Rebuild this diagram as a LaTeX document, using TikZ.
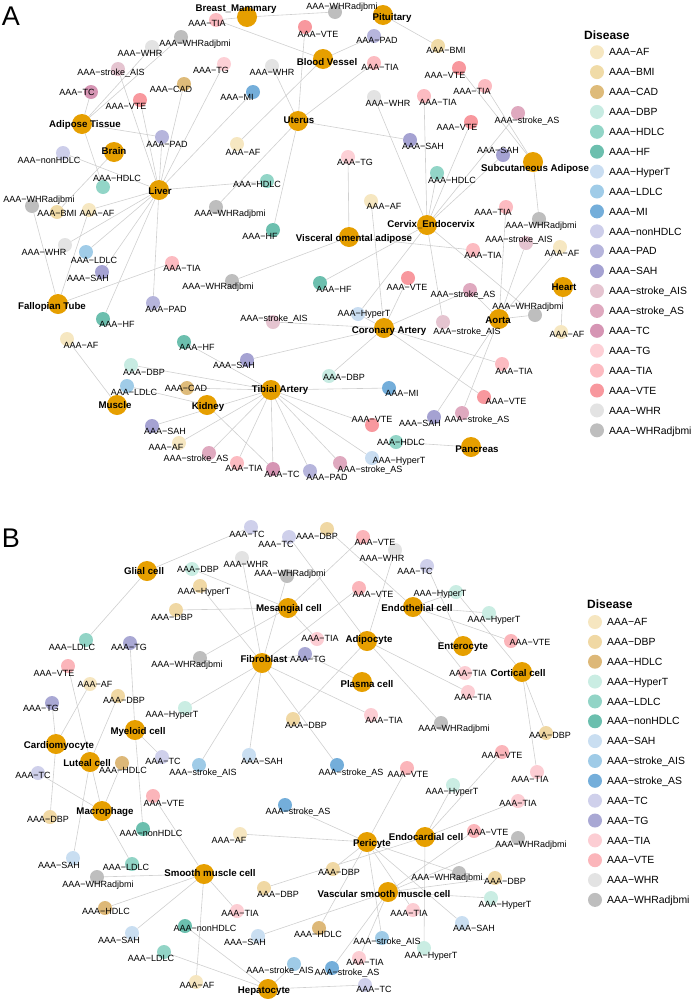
\documentclass[tikz,border=0pt]{standalone}
\usepackage{fontspec}
\setmainfont{Liberation Sans}
\usepackage{tikz}
\usetikzlibrary{positioning, backgrounds}
% colours, panel A
\definecolor{tisorange}{HTML}{E69F00}
\definecolor{linegray}{HTML}{CFCFCF}
\definecolor{aAF}{HTML}{F6E7C1}
\definecolor{aBMI}{HTML}{F0DBA7}
\definecolor{aCAD}{HTML}{DEBB7A}
\definecolor{aDBP}{HTML}{C7EBE2}
\definecolor{aHDLC}{HTML}{92D5C7}
\definecolor{aHF}{HTML}{6CBFAE}
\definecolor{aHyperT}{HTML}{C9DDF1}
\definecolor{aLDLC}{HTML}{A0CCE8}
\definecolor{aMI}{HTML}{74AEDA}
\definecolor{anonHDLC}{HTML}{CDCEEA}
\definecolor{aPAD}{HTML}{B6B5DC}
\definecolor{aSAH}{HTML}{A5A2D2}
\definecolor{aAIS}{HTML}{E5C4D0}
\definecolor{aAS}{HTML}{DFA9BF}
\definecolor{aTC}{HTML}{D695B4}
\definecolor{aTG}{HTML}{FDD0D6}
\definecolor{aTIA}{HTML}{FCBBC1}
\definecolor{aVTE}{HTML}{F8989E}
\definecolor{aWHR}{HTML}{E3E3E3}
\definecolor{aWHRadj}{HTML}{BEBEBE}
% colours, panel B
\definecolor{bAF}{HTML}{F6E6C0}
\definecolor{bDBP}{HTML}{F0D8A4}
\definecolor{bHDLC}{HTML}{DDB878}
\definecolor{bHyperT}{HTML}{CAEDE3}
\definecolor{bLDLC}{HTML}{92D4C6}
\definecolor{bnonHDLC}{HTML}{6BBFAE}
\definecolor{bSAH}{HTML}{C9DEF1}
\definecolor{bAIS}{HTML}{9FCBE7}
\definecolor{bAS}{HTML}{74AEDA}
\definecolor{bTC}{HTML}{CFD0EB}
\definecolor{bTG}{HTML}{A9A8D4}
\definecolor{bTIA}{HTML}{FCCDD3}
\definecolor{bVTE}{HTML}{FBB5BA}
\definecolor{bWHR}{HTML}{E3E3E3}
\definecolor{bWHRadj}{HTML}{BEBEBE}
\tikzset{dis/.style={circle, fill=#1, minimum size=14pt, inner sep=0pt},
         tis/.style={circle, fill=tisorange, minimum size=20pt, inner sep=0pt},
         lab/.style={font=\fontsize{9}{10}\selectfont, inner sep=0pt, text height=6.4pt, text depth=0pt},
         tlab/.style={font=\fontsize{9.7}{11}\selectfont\bfseries, inner sep=0pt, text height=7pt, text depth=0pt},
         legtxt/.style={font=\fontsize{10.4}{12}\selectfont, anchor=west, inner sep=0pt, text height=7.4pt, text depth=0pt},
         legtitle/.style={font=\fontsize{12}{14}\selectfont\bfseries, anchor=west, inner sep=0pt},
         edgeline/.style={draw=linegray, line width=0.6pt}}

\begin{document}
\begin{tikzpicture}[x=1pt, y=-1pt]
    \useasboundingbox (0,0) rectangle (692,999);
    \node[font=\fontsize{27}{30}\selectfont] (pA) at (11,16) {A};
    \node[font=\fontsize{27}{30}\selectfont] (pB) at (11,538) {B};

    % ---------- panel A: diseases ----------
    \node[dis=aTIA] (a1) at (216,20) {};
    \node[dis=aWHRadj] (a2) at (335,12) {};
    \node[dis=aWHRadj] (a3) at (181,37) {};
    \node[dis=aWHR] (a4) at (152,47) {};
    \node[dis=aAIS] (a5) at (118,69) {};
    \node[dis=aTG] (a6) at (224,64) {};
    \node[dis=aTC] (a7) at (91,92) {};
    \node[dis=aCAD] (a8) at (184,84) {};
    \node[dis=aVTE] (a9) at (140,100) {};
    \node[dis=aMI] (a10) at (253,92) {};
    \node[dis=aWHR] (a11) at (272,66) {};
    \node[dis=aVTE] (a12) at (305,27) {};
    \node[dis=aPAD] (a13) at (374,36) {};
    \node[dis=aBMI] (a14) at (438,46) {};
    \node[dis=aTIA] (a15) at (374,63) {};
    \node[dis=aVTE] (a16) at (459,68) {};
    \node[dis=aTIA] (a17) at (485,86) {};
    \node[dis=aWHR] (a18) at (374,97) {};
    \node[dis=aTIA] (a19) at (424,96) {};
    \node[dis=aAS] (a20) at (518,113) {};
    \node[dis=aVTE] (a21) at (471,122) {};
    \node[dis=aSAH] (a22) at (410,140) {};
    \node[dis=aSAH] (a23) at (503,155) {};
    \node[dis=aPAD] (a24) at (162,137) {};
    \node[dis=aAF] (a25) at (237,144) {};
    \node[dis=anonHDLC] (a26) at (63,153) {};
    \node[dis=aTG] (a27) at (348,157) {};
    \node[dis=aHDLC] (a28) at (437,173) {};
    \node[dis=aHDLC] (a29) at (103,187) {};
    \node[dis=aHDLC] (a30) at (267,181) {};
    \node[dis=aWHRadj] (a31) at (32,206) {};
    \node[dis=aBMI] (a32) at (57,212) {};
    \node[dis=aAF] (a33) at (89,210) {};
    \node[dis=aWHRadj] (a34) at (216,207) {};
    \node[dis=aAF] (a35) at (371,201) {};
    \node[dis=aTIA] (a36) at (506,207) {};
    \node[dis=aWHRadj] (a37) at (539,219) {};
    \node[dis=aHF] (a38) at (273,230) {};
    \node[dis=aAIS] (a39) at (526,243) {};
    \node[dis=aAF] (a40) at (560,247) {};
    \node[dis=aTIA] (a41) at (473,250) {};
    \node[dis=aWHR] (a42) at (65,245) {};
    \node[dis=aLDLC] (a43) at (86,252) {};
    \node[dis=aSAH] (a44) at (102,272) {};
    \node[dis=aTIA] (a45) at (172,263) {};
    \node[dis=aWHRadj] (a46) at (232,281) {};
    \node[dis=aHF] (a47) at (320,283) {};
    \node[dis=aVTE] (a48) at (408,278) {};
    \node[dis=aAS] (a49) at (470,290) {};
    \node[dis=aPAD] (a50) at (153,303) {};
    \node[dis=aHF] (a51) at (103,319) {};
    \node[dis=aAIS] (a52) at (273,322) {};
    \node[dis=aHyperT] (a53) at (358,314) {};
    \node[dis=aWHRadj] (a54) at (535,315) {};
    \node[dis=aAIS] (a55) at (443,322) {};
    \node[dis=aAF] (a56) at (561,332) {};
    \node[dis=aAF] (a57) at (67,339) {};
    \node[dis=aHF] (a58) at (184,342) {};
    \node[dis=aSAH] (a59) at (247,360) {};
    \node[dis=aTIA] (a60) at (502,364) {};
    \node[dis=aDBP] (a61) at (131,365) {};
    \node[dis=aDBP] (a62) at (329,376) {};
    \node[dis=aLDLC] (a63) at (127,386) {};
    \node[dis=aCAD] (a64) at (187,388) {};
    \node[dis=aMI] (a65) at (389,388) {};
    \node[dis=aVTE] (a66) at (484,397) {};
    \node[dis=aAS] (a67) at (462,413) {};
    \node[dis=aSAH] (a68) at (434,417) {};
    \node[dis=aVTE] (a69) at (372,425) {};
    \node[dis=aSAH] (a70) at (152,426) {};
    \node[dis=aHDLC] (a71) at (396,442) {};
    \node[dis=aAF] (a72) at (179,443) {};
    \node[dis=aAS] (a73) at (209,453) {};
    \node[dis=aHyperT] (a74) at (372,458) {};
    \node[dis=aTIA] (a75) at (237,463) {};
    \node[dis=aAS] (a76) at (340,463) {};
    \node[dis=aTC] (a77) at (273,469) {};
    \node[dis=aPAD] (a78) at (310,471) {};

    % ---------- panel A: tissues ----------
    \node[tis] (bm) at (247,17) {};
    \node[tis] (pit) at (383,15) {};
    \node[tis] (bv) at (323,59) {};
    \node[tis] (adip) at (82,124) {};
    \node[tis] (brain) at (114,152) {};
    \node[tis] (liver) at (159,190) {};
    \node[tis] (uterus) at (298,121) {};
    \node[tis] (subc) at (533,162) {};
    \node[tis] (cerv) at (427,225) {};
    \node[tis] (visc) at (349,237) {};
    \node[tis] (fall) at (58,304) {};
    \node[tis] (heart) at (563,287) {};
    \node[tis] (aorta) at (499,319) {};
    \node[tis] (coro) at (384,328) {};
    \node[tis] (tibial) at (271,390) {};
    \node[tis] (muscle) at (117,405) {};
    \node[tis] (kidney) at (207,405) {};
    \node[tis] (panc) at (471,447) {};

    \begin{pgfonlayer}{background}
    \draw[edgeline] (bm) -- (a1) (bm) -- (a2) (bv) -- (a1) (pit) -- (a14) (bv) -- (a13) (bv) -- (a25);
    \draw[edgeline] (uterus) -- (a12) (uterus) -- (a11) (uterus) -- (a15) (uterus) -- (a22) (uterus) -- (a34) (uterus) -- (a38);
    \draw[edgeline] (adip) -- (a3) (adip) -- (a4) (adip) -- (a7) (adip) -- (a24) (adip) -- (a29);
    \draw[edgeline] (liver) -- (a5) (liver) -- (a9) (liver) -- (a8) (liver) -- (a6) (liver) -- (a10) (liver) -- (a24)
        (liver) -- (a26) (liver) -- (a30) (liver) -- (a33) (liver) -- (a42) (liver) -- (a43) (liver) -- (a44)
        (liver) -- (a51) (liver) -- (a50);
    \draw[edgeline] (brain) -- (a32) (fall) -- (a31) (fall) -- (a33) (fall) -- (a45);
    \draw[edgeline] (subc) -- (a16) (subc) -- (a17) (subc) -- (a37);
    \draw[edgeline] (cerv) -- (a20) (cerv) -- (a21) (cerv) -- (a23) (cerv) -- (a18) (cerv) -- (a19) (cerv) -- (a28)
        (cerv) -- (a47) (cerv) -- (a53) (cerv) -- (a55) (cerv) -- (a54);
    \draw[edgeline] (visc) -- (a27) (visc) -- (a41) (visc) -- (a46);
    \draw[edgeline] (aorta) -- (a36) (aorta) -- (a39) (aorta) -- (a40) (aorta) -- (a49) (aorta) -- (a54)
        (aorta) -- (a67) (aorta) -- (a68) (heart) -- (a56);
    \draw[edgeline] (coro) -- (a35) (coro) -- (a48) (coro) -- (a49) (coro) -- (a52) (coro) -- (a59) (coro) -- (a60)
        (coro) -- (a62) (coro) -- (a66) (coro) -- (a53);
    \draw[edgeline] (tibial) -- (a58) (tibial) -- (a61) (tibial) -- (a64) (tibial) -- (a65) (tibial) -- (a69)
        (tibial) -- (a70) (tibial) -- (a72) (tibial) -- (a73) (tibial) -- (a74) (tibial) -- (a75)
        (tibial) -- (a76) (tibial) -- (a77) (tibial) -- (a78);
    \draw[edgeline] (muscle) -- (a57) (muscle) -- (a63) (kidney) -- (a63) (kidney) -- (a77) (panc) -- (a71);
    \end{pgfonlayer}

    % ---------- panel A: labels ----------
    \node[lab] (a1t) at (207,23) {AAA−TIA};
    \node[lab] (a2t) at (342,6) {AAA−WHRadjbmi};
    \node[lab] (a3t) at (195,43) {AAA−WHRadjbmi};
    \node[lab] (a4t) at (140,53) {AAA−WHR};
    \node[lab] (a5t) at (111,72) {AAA−stroke\_AIS};
    \node[lab] (a6t) at (211,70) {AAA−TG};
    \node[lab] (a7t) at (77,92) {AAA−TC};
    \node[lab] (a8t) at (171,89) {AAA−CAD};
    \node[lab] (a9t) at (126,106) {AAA−VTE};
    \node[lab] (a10t) at (237,97) {AAA−MI};
    \node[lab] (a11t) at (272,72) {AAA−WHR};
    \node[lab] (a12t) at (318,34) {AAA−VTE};
    \node[lab] (a13t) at (377,40) {AAA−PAD};
    \node[lab] (a14t) at (446,50) {AAA−BMI};
    \node[lab] (a15t) at (380,67) {AAA−TIA};
    \node[lab] (a16t) at (445,75) {AAA−VTE};
    \node[lab] (a17t) at (472,91) {AAA−TIA};
    \node[lab] (a18t) at (388,103) {AAA−WHR};
    \node[lab] (a19t) at (438,102) {AAA−TIA};
    \node[lab] (a20t) at (527,120) {AAA−stroke\_AS};
    \node[lab] (a21t) at (457,127) {AAA−VTE};
    \node[lab] (a22t) at (423,146) {AAA−SAH};
    \node[lab] (a23t) at (498,150) {AAA−SAH};
    \node[lab] (a24t) at (167,144) {AAA−PAD};
    \node[lab] (a25t) at (243,152) {AAA−AF};
    \node[lab] (a26t) at (49,160) {AAA−nonHDLC};
    \node[lab] (a27t) at (355,162) {AAA−TG};
    \node[lab] (a28t) at (452,180) {AAA−HDLC};
    \node[lab] (a29t) at (117,178) {AAA−HDLC};
    \node[lab] (a30t) at (257,184) {AAA−HDLC};
    \node[lab] (a31t) at (39,199) {AAA−WHRadjbmi};
    \node[lab] (a32t) at (57,213) {AAA−BMI};
    \node[lab] (a33t) at (97,213) {AAA−AF};
    \node[lab] (a34t) at (230,213) {AAA−WHRadjbmi};
    \node[lab] (a35t) at (384,206) {AAA−AF};
    \node[lab] (a36t) at (493,212) {AAA−TIA};
    \node[lab] (a37t) at (541,225) {AAA−WHRadjbmi};
    \node[lab] (a38t) at (260,236) {AAA−HF};
    \node[lab] (a39t) at (519,239) {AAA−stroke\_AIS};
    \node[lab] (a40t) at (562,253) {AAA−AF};
    \node[lab] (a41t) at (483,255) {AAA−TIA};
    \node[lab] (a42t) at (44,252) {AAA−WHR};
    \node[lab] (a43t) at (94,260) {AAA−LDLC};
    \node[lab] (a44t) at (88,278) {AAA−SAH};
    \node[lab] (a45t) at (182,268) {AAA−TIA};
    \node[lab] (a46t) at (218,286) {AAA−WHRadjbmi};
    \node[lab] (a47t) at (334,289) {AAA−HF};
    \node[lab] (a48t) at (407,287) {AAA−VTE};
    \node[lab] (a49t) at (463,294) {AAA−stroke\_AS};
    \node[lab] (a50t) at (166,309) {AAA−PAD};
    \node[lab] (a51t) at (117,324) {AAA−HF};
    \node[lab] (a52t) at (274,318) {AAA−stroke\_AIS};
    \node[lab] (a53t) at (364,313) {AAA−HyperT};
    \node[lab] (a54t) at (528,306) {AAA−WHRadjbmi};
    \node[lab] (a55t) at (467,331) {AAA−stroke\_AIS};
    \node[lab] (a56t) at (567,334) {AAA−AF};
    \node[lab] (a57t) at (81,345) {AAA−AF};
    \node[lab] (a58t) at (197,347) {AAA−HF};
    \node[lab] (a59t) at (234,365) {AAA−SAH};
    \node[lab] (a60t) at (514,371) {AAA−TIA};
    \node[lab] (a61t) at (144,372) {AAA−DBP};
    \node[lab] (a62t) at (344,377) {AAA−DBP};
    \node[lab] (a63t) at (134,392) {AAA−LDLC};
    \node[lab] (a64t) at (186,388) {AAA−CAD};
    \node[lab] (a65t) at (402,393) {AAA−MI};
    \node[lab] (a66t) at (506,401) {AAA−VTE};
    \node[lab] (a67t) at (477,419) {AAA−stroke\_AS};
    \node[lab] (a68t) at (420,423) {AAA−SAH};
    \node[lab] (a69t) at (372,419) {AAA−VTE};
    \node[lab] (a70t) at (165,431) {AAA−SAH};
    \node[lab] (a71t) at (401,442) {AAA−HDLC};
    \node[lab] (a72t) at (166,447) {AAA−AF};
    \node[lab] (a73t) at (196,458) {AAA−stroke\_AS};
    \node[lab] (a74t) at (399,460) {AAA−HyperT};
    \node[lab] (a75t) at (244,468) {AAA−TIA};
    \node[lab] (a76t) at (370,469) {AAA−stroke\_AS};
    \node[lab] (a77t) at (282,474) {AAA−TC};
    \node[lab] (a78t) at (327,477) {AAA−PAD};

    \node[tlab] (bmt) at (236,8) {Breast\_Mammary};
    \node[tlab] (pitt) at (392,17) {Pituitary};
    \node[tlab] (bvt) at (327,62) {Blood Vessel};
    \node[tlab] (adipt) at (85,124) {Adipose Tissue};
    \node[tlab] (braint) at (114,151) {Brain};
    \node[tlab] (livert) at (160,191) {Liver};
    \node[tlab] (uterust) at (299,120) {Uterus};
    \node[tlab] (subct) at (535,168) {Subcutaneous Adipose};
    \node[tlab] (cervt) at (431,224) {Cervix\_Endocervix};
    \node[tlab] (visct) at (354,238) {Visceral omental adipose};
    \node[tlab] (fallt) at (52,306) {Fallopian Tube};
    \node[tlab] (heartt) at (564,287) {Heart};
    \node[tlab] (aortat) at (498,320) {Aorta};
    \node[tlab] (corot) at (389,330) {Coronary Artery};
    \node[tlab] (tibialt) at (280,389) {Tibial Artery};
    \node[tlab] (musclet) at (115,405) {Muscle};
    \node[tlab] (kidneyt) at (208,406) {Kidney};
    \node[tlab] (panct) at (477,449) {Pancreas};

    % ---------- panel A: legend ----------
    \node[legtitle] (legA) at (584,35) {Disease};
    \foreach \c/\t [count=\i] in {aAF/AF, aBMI/BMI, aCAD/CAD, aDBP/DBP, aHDLC/HDLC, aHF/HF, aHyperT/HyperT,
        aLDLC/LDLC, aMI/MI, anonHDLC/nonHDLC, aPAD/PAD, aSAH/SAH, aAIS/stroke\_AIS, aAS/stroke\_AS,
        aTC/TC, aTG/TG, aTIA/TIA, aVTE/VTE, aWHR/WHR, aWHRadj/WHRadjbmi}
    {
        \node[dis=\c] (la\i) at (597,{52.2+19.9*(\i-1)}) {};
        \node[legtxt] (lat\i) at (609,{52.2+19.9*(\i-1)}) {AAA−\t};
    }

    % ---------- panel B: diseases ----------
    \node[dis=bTC] (b1) at (251,527) {};
    \node[dis=bTC] (b2) at (289,537) {};
    \node[dis=bDBP] (b3) at (327,529) {};
    \node[dis=bVTE] (b4) at (363,537) {};
    \node[dis=bWHR] (b5) at (242,558) {};
    \node[dis=bHyperT] (b6) at (192,569) {};
    \node[dis=bWHR] (b7) at (395,550) {};
    \node[dis=bTC] (b8) at (427,566) {};
    \node[dis=bWHRadj] (b9) at (287,576) {};
    \node[dis=bDBP] (b10) at (200,586) {};
    \node[dis=bVTE] (b11) at (359,588) {};
    \node[dis=bHyperT] (b12) at (456,592) {};
    \node[dis=bDBP] (b13) at (176,610) {};
    \node[dis=bHyperT] (b14) at (489,613) {};
    \node[dis=bTIA] (b15) at (317,639) {};
    \node[dis=bVTE] (b16) at (511,641) {};
    \node[dis=bLDLC] (b17) at (86,640) {};
    \node[dis=bTG] (b18) at (130,643) {};
    \node[dis=bTG] (b19) at (305,654) {};
    \node[dis=bWHRadj] (b20) at (200,658) {};
    \node[dis=bVTE] (b21) at (68,666) {};
    \node[dis=bTIA] (b22) at (465,673) {};
    \node[dis=bAF] (b23) at (90,684) {};
    \node[dis=bTIA] (b24) at (468,692) {};
    \node[dis=bDBP] (b25) at (118,696) {};
    \node[dis=bTG] (b26) at (52,703) {};
    \node[dis=bHyperT] (b27) at (185,708) {};
    \node[dis=bDBP] (b28) at (293,719) {};
    \node[dis=bTIA] (b29) at (371,715) {};
    \node[dis=bWHRadj] (b30) at (441,723) {};
    \node[dis=bDBP] (b31) at (546,733) {};
    \node[dis=bVTE] (b32) at (502,752) {};
    \node[dis=bSAH] (b33) at (249,755) {};
    \node[dis=bTC] (b34) at (162,757) {};
    \node[dis=bHDLC] (b35) at (122,763) {};
    \node[dis=bAIS] (b36) at (199,765) {};
    \node[dis=bAS] (b37) at (337,765) {};
    \node[dis=bVTE] (b38) at (407,768) {};
    \node[dis=bTIA] (b39) at (537,772) {};
    \node[dis=bTC] (b40) at (38,773) {};
    \node[dis=bHyperT] (b41) at (453,785) {};
    \node[dis=bVTE] (b42) at (153,796) {};
    \node[dis=bTIA] (b43) at (518,801) {};
    \node[dis=bAS] (b44) at (285,805) {};
    \node[dis=bDBP] (b45) at (50,817) {};
    \node[dis=bnonHDLC] (b46) at (143,829) {};
    \node[dis=bVTE] (b47) at (474,831) {};
    \node[dis=bAF] (b48) at (240,834) {};
    \node[dis=bWHRadj] (b49) at (518,838) {};
    \node[dis=bSAH] (b50) at (73,858) {};
    \node[dis=bLDLC] (b51) at (132,864) {};
    \node[dis=bDBP] (b52) at (333,869) {};
    \node[dis=bWHRadj] (b53) at (459,873) {};
    \node[dis=bWHRadj] (b54) at (97,877) {};
    \node[dis=bDBP] (b55) at (495,878) {};
    \node[dis=bDBP] (b56) at (264,888) {};
    \node[dis=bHyperT] (b57) at (491,898) {};
    \node[dis=bHDLC] (b58) at (105,908) {};
    \node[dis=bTIA] (b59) at (413,910) {};
    \node[dis=bTIA] (b60) at (237,911) {};
    \node[dis=bSAH] (b61) at (462,923) {};
    \node[dis=bnonHDLC] (b62) at (185,926) {};
    \node[dis=bHDLC] (b63) at (319,928) {};
    \node[dis=bSAH] (b64) at (132,933) {};
    \node[dis=bSAH] (b65) at (258,936) {};
    \node[dis=bAIS] (b66) at (382,938) {};
    \node[dis=bHyperT] (b67) at (424,948) {};
    \node[dis=bLDLC] (b68) at (164,952) {};
    \node[dis=bTIA] (b69) at (359,958) {};
    \node[dis=bAIS] (b70) at (294,964) {};
    \node[dis=bAS] (b71) at (332,968) {};
    \node[dis=bAF] (b72) at (196,982) {};
    \node[dis=bTC] (b73) at (365,985) {};

    % ---------- panel B: cell types ----------
    \node[tis] (glial) at (147,571) {};
    \node[tis] (mesang) at (288,608) {};
    \node[tis] (endoth) at (413,607) {};
    \node[tis] (adipo) at (367,641) {};
    \node[tis] (entero) at (463,646) {};
    \node[tis] (cortic) at (522,672) {};
    \node[tis] (fibro) at (262,663) {};
    \node[tis] (plasma) at (362,682) {};
    \node[tis] (myelo) at (135,730) {};
    \node[tis] (cardio) at (56,744) {};
    \node[tis] (luteal) at (90,762) {};
    \node[tis] (macro) at (102,811) {};
    \node[tis] (smooth) at (204,874) {};
    \node[tis] (peri) at (367,842) {};
    \node[tis] (endoc) at (425,837) {};
    \node[tis] (vsmc) at (388,892) {};
    \node[tis] (hepat) at (268,989) {};

    \begin{pgfonlayer}{background}
    \draw[edgeline] (glial) -- (b1) (glial) -- (b17);
    \draw[edgeline] (mesang) -- (b6) (mesang) -- (b13) (mesang) -- (b20) (mesang) -- (b4) (mesang) -- (b15);
    \draw[edgeline] (fibro) -- (b5) (fibro) -- (b10) (fibro) -- (b27) (fibro) -- (b36) (fibro) -- (b33)
        (fibro) -- (b37) (fibro) -- (b11) (fibro) -- (b29) (fibro) -- (b19) (fibro) -- (b9);
    \draw[edgeline] (endoth) -- (b3) (endoth) -- (b12) (endoth) -- (b14) (endoth) -- (b16) (endoth) -- (b22);
    \draw[edgeline] (adipo) -- (b2) (adipo) -- (b7) (adipo) -- (b24) (adipo) -- (b30) (adipo) -- (b28);
    \draw[edgeline] (entero) -- (b8) (cortic) -- (b12) (cortic) -- (b31) (cortic) -- (b39) (plasma) -- (b19);
    \draw[edgeline] (myelo) -- (b18) (myelo) -- (b46) (myelo) -- (b34);
    \draw[edgeline] (cardio) -- (b26) (cardio) -- (b23) (cardio) -- (b45) (luteal) -- (b25) (luteal) -- (b50);
    \draw[edgeline] (macro) -- (b40) (macro) -- (b35) (macro) -- (b51) (macro) -- (b21);
    \draw[edgeline] (smooth) -- (b42) (smooth) -- (b54) (smooth) -- (b58) (smooth) -- (b64) (smooth) -- (b60) (smooth) -- (b72);
    \draw[edgeline] (hepat) -- (b62) (hepat) -- (b68) (hepat) -- (b73) (hepat) -- (b70);
    \draw[edgeline] (peri) -- (b48) (peri) -- (b44) (peri) -- (b38) (peri) -- (b52) (peri) -- (b63)
        (peri) -- (b66) (peri) -- (b59) (peri) -- (b61) (peri) -- (b53);
    \draw[edgeline] (endoc) -- (b32) (endoc) -- (b43) (endoc) -- (b67) (endoc) -- (b56) (endoc) -- (b41);
    \draw[edgeline] (vsmc) -- (b47) (vsmc) -- (b49) (vsmc) -- (b55) (vsmc) -- (b57) (vsmc) -- (b65)
        (vsmc) -- (b71) (vsmc) -- (b69);
    \end{pgfonlayer}

    % ---------- panel B: labels ----------
    \node[lab] (b1t) at (247,534) {AAA−TC};
    \node[lab] (b2t) at (276,544) {AAA−TC};
    \node[lab] (b3t) at (317,536) {AAA−DBP};
    \node[lab] (b4t) at (375,542) {AAA−VTE};
    \node[lab] (b5t) at (246,564) {AAA−WHR};
    \node[lab] (b6t) at (198,569) {AAA−DBP};
    \node[lab] (b7t) at (382,558) {AAA−WHR};
    \node[lab] (b8t) at (415,571) {AAA−TC};
    \node[lab] (b9t) at (290,573) {AAA−WHRadjbmi};
    \node[lab] (b10t) at (204,591) {AAA−HyperT};
    \node[lab] (b11t) at (373,594) {AAA−VTE};
    \node[lab] (b12t) at (440,593) {AAA−HyperT};
    \node[lab] (b13t) at (172,617) {AAA−DBP};
    \node[lab] (b14t) at (494,619) {AAA−HyperT};
    \node[lab] (b15t) at (320,638) {AAA−TIA};
    \node[lab] (b16t) at (530,642) {AAA−VTE};
    \node[lab] (b17t) at (72,647) {AAA−LDLC};
    \node[lab] (b18t) at (129,647) {AAA−TG};
    \node[lab] (b19t) at (308,659) {AAA−TG};
    \node[lab] (b20t) at (187,664) {AAA−WHRadjbmi};
    \node[lab] (b21t) at (54,673) {AAA−VTE};
    \node[lab] (b22t) at (468,673) {AAA−TIA};
    \node[lab] (b23t) at (95,684) {AAA−AF};
    \node[lab] (b24t) at (473,697) {AAA−TIA};
    \node[lab] (b25t) at (124,700) {AAA−DBP};
    \node[lab] (b26t) at (41,708) {AAA−TG};
    \node[lab] (b27t) at (172,714) {AAA−HyperT};
    \node[lab] (b28t) at (306,725) {AAA−DBP};
    \node[lab] (b29t) at (384,720) {AAA−TIA};
    \node[lab] (b30t) at (454,728) {AAA−WHRadjbmi};
    \node[lab] (b31t) at (550,735) {AAA−DBP};
    \node[lab] (b32t) at (502,755) {AAA−VTE};
    \node[lab] (b33t) at (262,761) {AAA−SAH};
    \node[lab] (b34t) at (163,761) {AAA−TC};
    \node[lab] (b35t) at (123,770) {AAA−HDLC};
    \node[lab] (b36t) at (203,772) {AAA−stroke\_AIS};
    \node[lab] (b37t) at (351,772) {AAA−stroke\_AS};
    \node[lab] (b38t) at (408,774) {AAA−VTE};
    \node[lab] (b39t) at (530,779) {AAA−TIA};
    \node[lab] (b40t) at (33,775) {AAA−TC};
    \node[lab] (b41t) at (452,791) {AAA−HyperT};
    \node[lab] (b42t) at (164,803) {AAA−VTE};
    \node[lab] (b43t) at (518,803) {AAA−TIA};
    \node[lab] (b44t) at (298,811) {AAA−stroke\_AS};
    \node[lab] (b45t) at (48,819) {AAA−DBP};
    \node[lab] (b46t) at (151,833) {AAA−nonHDLC};
    \node[lab] (b47t) at (488,832) {AAA−VTE};
    \node[lab] (b48t) at (229,840) {AAA−AF};
    \node[lab] (b49t) at (531,844) {AAA−WHRadjbmi};
    \node[lab] (b50t) at (59,865) {AAA−SAH};
    \node[lab] (b51t) at (126,867) {AAA−LDLC};
    \node[lab] (b52t) at (339,872) {AAA−DBP};
    \node[lab] (b53t) at (447,877) {AAA−WHRadjbmi};
    \node[lab] (b54t) at (98,884) {AAA−WHRadjbmi};
    \node[lab] (b55t) at (505,881) {AAA−DBP};
    \node[lab] (b56t) at (278,894) {AAA−DBP};
    \node[lab] (b57t) at (505,904) {AAA−HyperT};
    \node[lab] (b58t) at (106,911) {AAA−HDLC};
    \node[lab] (b59t) at (409,913) {AAA−TIA};
    \node[lab] (b60t) at (240,913) {AAA−TIA};
    \node[lab] (b61t) at (474,928) {AAA−SAH};
    \node[lab] (b62t) at (205,928) {AAA−nonHDLC};
    \node[lab] (b63t) at (318,934) {AAA−HDLC};
    \node[lab] (b64t) at (119,940) {AAA−SAH};
    \node[lab] (b65t) at (245,942) {AAA−SAH};
    \node[lab] (b66t) at (387,941) {AAA−stroke\_AIS};
    \node[lab] (b67t) at (431,955) {AAA−HyperT};
    \node[lab] (b68t) at (151,958) {AAA−LDLC};
    \node[lab] (b69t) at (365,962) {AAA−TIA};
    \node[lab] (b70t) at (280,970) {AAA−stroke\_AIS};
    \node[lab] (b71t) at (347,972) {AAA−stroke\_AS};
    \node[lab] (b72t) at (197,985) {AAA−AF};
    \node[lab] (b73t) at (374,989) {AAA−TC};

    \node[tlab] (glialt) at (144,571) {Glial cell};
    \node[tlab] (mesangt) at (289,608) {Mesangial cell};
    \node[tlab] (endotht) at (417,608) {Endothelial cell};
    \node[tlab] (adipot) at (369,639) {Adipocyte};
    \node[tlab] (enterot) at (463,646) {Enterocyte};
    \node[tlab] (cortict) at (518,673) {Cortical cell};
    \node[tlab] (fibrot) at (264,659) {Fibroblast};
    \node[tlab] (plasmat) at (367,684) {Plasma cell};
    \node[tlab] (myelot) at (138,731) {Myeloid cell};
    \node[tlab] (cardiot) at (59,745) {Cardiomyocyte};
    \node[tlab] (lutealt) at (87,763) {Luteal cell};
    \node[tlab] (macrot) at (105,811) {Macrophage};
    \node[tlab] (smootht) at (210,873) {Smooth muscle cell};
    \node[tlab] (perit) at (372,843) {Pericyte};
    \node[tlab] (endoct) at (426,837) {Endocardial cell};
    \node[tlab] (vsmct) at (384,894) {Vascular smooth muscle cell};
    \node[tlab] (hepatt) at (264,990) {Hepatocyte};

    % ---------- panel B: legend ----------
    \node[legtitle] (legB) at (587,604) {Disease};
    \foreach \c/\t [count=\i] in {bAF/AF, bDBP/DBP, bHDLC/HDLC, bHyperT/HyperT, bLDLC/LDLC, bnonHDLC/nonHDLC,
        bSAH/SAH, bAIS/stroke\_AIS, bAS/stroke\_AS, bTC/TC, bTG/TG, bTIA/TIA, bVTE/VTE, bWHR/WHR, bWHRadj/WHRadjbmi}
    {
        \node[dis=\c] (lb\i) at (595,{622+19.85*(\i-1)}) {};
        \node[legtxt] (lbt\i) at (607,{622+19.85*(\i-1)}) {AAA−\t};
    }
\end{tikzpicture}
\end{document}
